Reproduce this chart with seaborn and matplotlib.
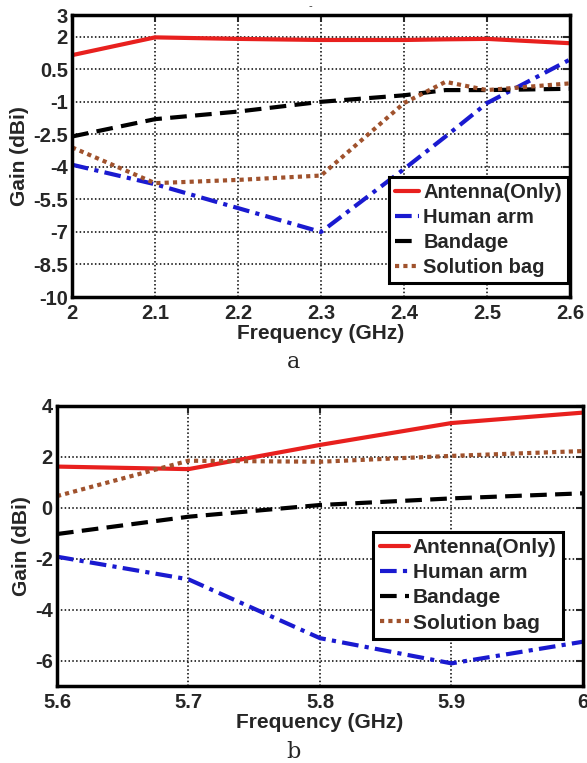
import numpy as np
import pandas as pd
import matplotlib
matplotlib.use("Agg")
import matplotlib.pyplot as plt
import seaborn as sns

sns.set_style("white")
plt.rcParams['font.family'] = ['Liberation Sans', 'DejaVu Sans']

series_names = ["Antenna(Only)", "Human arm", "Bandage", "Solution bag"]

# Panel a (2.0 - 2.6 GHz)
freq_a = [2.0, 2.1, 2.2, 2.3, 2.4, 2.45, 2.5, 2.6]
antenna_a = [1.15, 1.97, 1.9, 1.85, 1.85, 1.88, 1.9, 1.7]
human_a = [-3.9, -4.8, -5.9, -7.0, -4.1, -2.6, -1.06, 0.95]
bandage_a = [-2.6, -1.8, -1.45, -1.0, -0.7, -0.46, -0.46, -0.4]
solution_a = [-3.1, -4.75, -4.6, -4.4, -1.06, -0.08, -0.46, -0.15]

# Panel b (5.6 - 6.0 GHz)
freq_b = [5.6, 5.7, 5.8, 5.9, 6.0]
antenna_b = [1.62, 1.52, 2.47, 3.33, 3.74]
human_b = [-1.92, -2.81, -5.12, -6.11, -5.26]
bandage_b = [-1.03, -0.35, 0.11, 0.37, 0.57]
solution_b = [0.46, 1.85, 1.81, 2.04, 2.23]

yticks_a = [3, 2, 0.5, -1, -2.5, -4, -5.5, -7, -8.5, -10]
ytick_labels_a = ["3", "2", "0.5", "-1", "-2.5", "-4", "-5.5", "-7", "-8.5", "-10"]
xticks_a = [2, 2.1, 2.2, 2.3, 2.4, 2.5, 2.6]
xtick_labels_a = ["2", "2.1", "2.2", "2.3", "2.4", "2.5", "2.6"]
yticks_b = [4, 2, 0, -2, -4, -6]
xticks_b = [5.6, 5.7, 5.8, 5.9, 6.0]
xtick_labels_b = ["5.6", "5.7", "5.8", "5.9", "6"]

colors = ["#e8201e", "#1a1ad0", "#000000", "#a0522d"]
styles = ["-", (0, (4, 1.5, 1, 1.5)), (0, (4, 2)), (0, (1, 1))]

def make_df(freq, vals):
    rows = []
    for name, v in zip(series_names, vals):
        for f, g in zip(freq, v):
            rows.append({"freq": f, "gain": g, "series": name})
    return pd.DataFrame(rows)

df_a = make_df(freq_a, [antenna_a, human_a, bandage_a, solution_a])
df_b = make_df(freq_b, [antenna_b, human_b, bandage_b, solution_b])

fig = plt.figure(figsize=(5.87, 7.63), dpi=100)
ax_a = fig.add_axes([0.1227, 0.6107, 0.8484, 0.3696])
ax_b = fig.add_axes([0.0971, 0.1009, 0.896, 0.367])

def draw(ax, df, xlim, ylim, xticks, xlabels, yticks, ylabels, legend_bbox,
         legsize, handlelen):
    for name, c, ls in zip(series_names, colors, styles):
        sub = df[df["series"] == name]
        sns.lineplot(data=sub, x="freq", y="gain", ax=ax, color=c,
                     linestyle=ls, linewidth=3.0, label=name, sort=False)
    ax.set_xlim(*xlim)
    ax.set_ylim(*ylim)
    ax.set_xticks(xticks)
    ax.set_xticklabels(xlabels)
    ax.set_yticks(yticks)
    ax.set_yticklabels(ylabels)
    ax.grid(True, color="black", linestyle=(0, (1, 1.5)), linewidth=1.1)
    for s in ax.spines.values():
        s.set_linewidth(2.5)
        s.set_color("black")
    ax.tick_params(direction="in", length=5, width=1.5, labelsize=14.5,
                   top=True, right=True)
    ax.tick_params(axis="x", pad=5)
    ax.tick_params(axis="y", pad=3)
    for lab in ax.get_xticklabels() + ax.get_yticklabels():
        lab.set_fontweight("bold")
    ax.set_xlabel("Frequency (GHz)", fontsize=15, fontweight="bold", labelpad=1)
    ax.set_ylabel("Gain (dBi)", fontsize=15, fontweight="bold", labelpad=3)
    leg = ax.legend(loc="lower right", bbox_to_anchor=legend_bbox,
                    prop={"weight": "bold", "size": legsize}, frameon=True,
                    fancybox=False, edgecolor="black", framealpha=1,
                    handlelength=handlelen, handletextpad=0.2,
                    labelspacing=0.3, borderpad=0.3, borderaxespad=0)
    leg.get_frame().set_linewidth(2.2)

draw(ax_a, df_a, (2, 2.6), (-10, 3), xticks_a, xtick_labels_a,
     yticks_a, ytick_labels_a, (0.996, 0.05), 14.5, 1.2)
draw(ax_b, df_b, (5.6, 6.0), (-7, 4), xticks_b, xtick_labels_b,
     yticks_b, [str(t) for t in yticks_b], (0.962, 0.168), 15, 1.4)

fig.text(0.5, 1 - 362 / 763, "a", ha="center", va="center",
         fontsize=16, family="DejaVu Serif")
fig.text(0.5, 1 - 752 / 763, "b", ha="center", va="center",
         fontsize=16, family="DejaVu Serif")
fig.text(310 / 587, 1 - 6 / 763, "-", ha="center", va="center",
         fontsize=8, color="#333333")

fig.savefig("out.png", dpi=100)
